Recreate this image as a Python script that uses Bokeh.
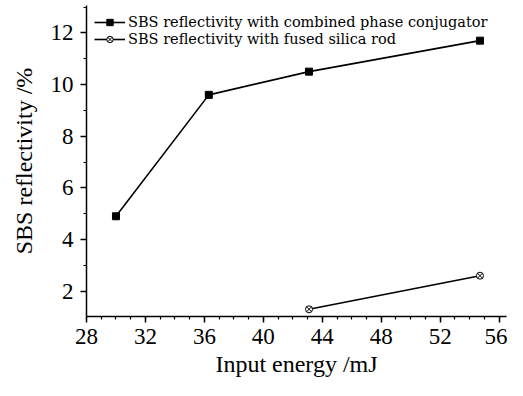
from bokeh.plotting import figure
from bokeh.models import Range1d, Legend, LegendItem, FixedTicker
from bokeh.embed import file_html
from bokeh.resources import INLINE

# data
energy_combined = [30.0, 36.3, 43.1, 54.7]
refl_combined = [4.9, 9.6, 10.5, 11.7]
energy_silica = [43.1, 54.7]
refl_silica = [1.3, 2.6]

x_ticks = [28, 32, 36, 40, 44, 48, 52, 56]
y_ticks = [2, 4, 6, 8, 10, 12]
label_combined = "SBS reflectivity with combined phase conjugator"
label_silica = "SBS reflectivity with fused silica rod"

FONT = "Liberation Serif"

p = figure(width=507, height=380, output_backend="svg", toolbar_location=None,
           x_range=Range1d(28, 56.5), y_range=Range1d(1.02, 13.06),
           min_border_left=86, min_border_right=1, min_border_top=5, min_border_bottom=64)
p.outline_line_color = None
p.xgrid.visible = False
p.ygrid.visible = False
p.background_fill_color = "white"
p.border_fill_color = "white"

r1 = p.line(energy_combined, refl_combined, line_color="black", line_width=1.6)
s1 = p.scatter(energy_combined, refl_combined, marker="square", size=7,
               fill_color="black", line_color="black")
r2 = p.line(energy_silica, refl_silica, line_color="black", line_width=1.6)
s2 = p.scatter(energy_silica, refl_silica, marker="circle_x", size=7,
               fill_color="white", line_color="black", line_width=1)

for ax in (p.xaxis[0], p.yaxis[0]):
    ax.axis_line_width = 1.5
    ax.axis_line_color = "black"
    ax.major_tick_line_width = 1.5
    ax.minor_tick_line_width = 1.2
    ax.major_tick_line_color = "black"
    ax.minor_tick_line_color = "black"
    ax.major_tick_out = 6
    ax.major_tick_in = 0
    ax.minor_tick_out = 3
    ax.minor_tick_in = 0
    ax.major_label_text_font = FONT
    ax.major_label_text_font_size = "23px"
    ax.major_label_text_color = "black"
    ax.axis_label_text_font = FONT
    ax.axis_label_text_font_size = "24px"
    ax.axis_label_text_font_style = "normal"
    ax.axis_label_text_color = "black"

p.xaxis.ticker = FixedTicker(ticks=x_ticks, minor_ticks=list(range(28, 57)))
p.yaxis.ticker = FixedTicker(ticks=y_ticks, minor_ticks=list(range(1, 14)))
p.xaxis.major_label_standoff = 6
p.yaxis.major_label_standoff = 7
p.xaxis.axis_label = "Input energy /mJ"
p.yaxis.axis_label = "SBS reflectivity /%"
p.xaxis.axis_label_standoff = 4
p.yaxis.axis_label_standoff = 11

legend = Legend(items=[LegendItem(label=label_combined, renderers=[r1, s1]),
                       LegendItem(label=label_silica, renderers=[r2, s2])],
                location=(8, 269), padding=3, margin=0, spacing=1,
                glyph_width=31, glyph_height=16, label_height=16, label_standoff=3,
                border_line_color=None, background_fill_alpha=0,
                label_text_font="DejaVu Serif", label_text_font_size="14.5px",
                label_text_color="black")
p.add_layout(legend)

open("out.html", "w").write(file_html(p, INLINE))
